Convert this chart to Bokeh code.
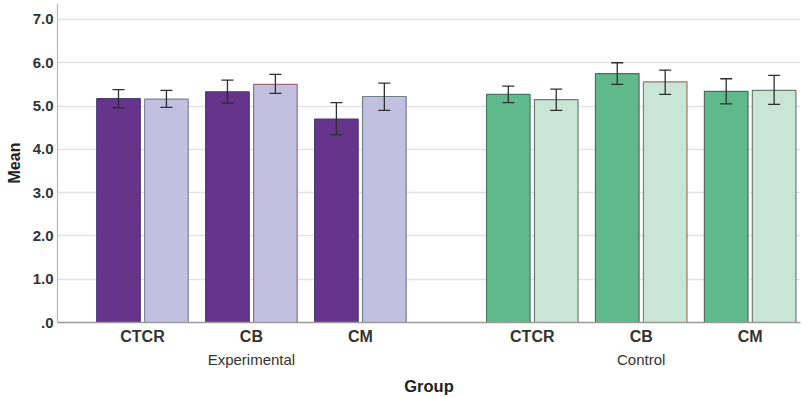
from bokeh.plotting import figure
from bokeh.models import (ColumnDataSource, Range1d, FixedTicker, LinearAxis,
                          Whisker, TeeHead, NumeralTickFormatter)
from bokeh.embed import file_html
from bokeh.resources import INLINE

# ---- data ----
groups = ["Experimental", "Control"]
measures = ["CTCR", "CB", "CM"]
group_of = ["Experimental", "Experimental", "Experimental", "Control", "Control", "Control"]
measure_of = ["CTCR", "CB", "CM", "CTCR", "CB", "CM"]
pre_mean = [5.17, 5.33, 4.70, 5.27, 5.75, 5.34]
pre_lo = [4.96, 5.07, 4.34, 5.08, 5.50, 5.05]
pre_hi = [5.38, 5.60, 5.08, 5.46, 6.00, 5.63]
post_mean = [5.16, 5.50, 5.22, 5.15, 5.56, 5.36]
post_lo = [4.97, 5.29, 4.90, 4.90, 5.27, 5.04]
post_hi = [5.36, 5.73, 5.53, 5.39, 5.83, 5.71]
y_ticks = [0, 1, 2, 3, 4, 5, 6, 7]

# colours
pre_fill = ["#66348a"] * 3 + ["#5fb98a"] * 3
post_fill = ["#c2c0e0"] * 3 + ["#c8e5d6"] * 3
pre_line = ["#4b3a78", "#4b3a78", "#4b3a78", "#4d7a66", "#4d6a5c", "#4d6a5c"]
post_line = ["#7d8496", "#a06878", "#6f8088", "#6f7a74", "#a07464", "#6f7a74"]

# ---- layout positions (computed from the category indices) ----
GAP = 0.578
OFF = 0.22
W = 0.40
xc = [groups.index(g) * (len(measures) + GAP) + measures.index(m)
      for g, m in zip(group_of, measure_of)]
x_pre = [x - OFF for x in xc]
x_post = [x + OFF for x in xc]

src_pre = ColumnDataSource(dict(x=x_pre, top=pre_mean, lo=pre_lo, hi=pre_hi,
                                fill=pre_fill, line=pre_line))
src_post = ColumnDataSource(dict(x=x_post, top=post_mean, lo=post_lo, hi=post_hi,
                                 fill=post_fill, line=post_line))

FONT = "Liberation Sans"

p = figure(width=802, height=397, output_backend="svg", toolbar_location=None,
           x_range=Range1d(-0.78, 6.04), y_range=Range1d(0, 7.368),
           min_border_left=57, min_border_right=2, min_border_top=3,
           min_border_bottom=0, x_axis_location=None)
p.outline_line_color = None
p.background_fill_color = "white"
p.border_fill_color = "white"
p.xgrid.visible = False
p.ygrid.grid_line_color = "#e2e2e2"
p.ygrid.grid_line_width = 1.3
p.ygrid.ticker = FixedTicker(ticks=y_ticks)

p.vbar(x="x", top="top", bottom=0, width=W, source=src_pre,
       fill_color="fill", line_color="line", line_width=1.2)
p.vbar(x="x", top="top", bottom=0, width=W, source=src_post,
       fill_color="fill", line_color="line", line_width=1.2)

for src in (src_pre, src_post):
    w = Whisker(source=src, base="x", upper="hi", lower="lo", level="overlay",
                line_color="#2e2e2e", line_width=1.3,
                upper_head=TeeHead(size=12, line_color="#2e2e2e", line_width=1.3),
                lower_head=TeeHead(size=12, line_color="#2e2e2e", line_width=1.3))
    p.add_layout(w)

# y axis
ya = p.yaxis[0]
ya.ticker = FixedTicker(ticks=y_ticks)
ya.formatter = NumeralTickFormatter(format="0.0")
ya.major_label_overrides = {0: ".0"}
ya.major_tick_out = 0
ya.major_tick_in = 0
ya.minor_tick_out = 0
ya.minor_tick_in = 0
ya.axis_line_color = "#bdbdbd"
ya.axis_line_width = 1.3
ya.major_label_text_font = FONT
ya.major_label_text_font_style = "bold"
ya.major_label_text_font_size = "15px"
ya.major_label_text_color = "#333333"
ya.major_label_standoff = 4
ya.axis_label = "Mean"
ya.axis_label_text_font = FONT
ya.axis_label_text_font_style = "bold"
ya.axis_label_text_font_size = "16px"
ya.axis_label_text_color = "#222222"
ya.axis_label_standoff = 7

# x axis: measures
xa1 = LinearAxis(ticker=FixedTicker(ticks=xc),
                 major_label_overrides={x: m for x, m in zip(xc, measure_of)})
xa1.major_tick_out = 0
xa1.major_tick_in = 0
xa1.minor_tick_out = 0
xa1.minor_tick_in = 0
xa1.axis_line_color = "#9a9a9a"
xa1.axis_line_width = 1.3
xa1.major_label_text_font = FONT
xa1.major_label_text_font_style = "bold"
xa1.major_label_text_font_size = "16px"
xa1.major_label_text_color = "#333333"
xa1.major_label_standoff = 5
p.add_layout(xa1, "below")

# x axis: groups
gc = [sum(xc[i] for i in range(len(xc)) if group_of[i] == g) / len(measures) for g in groups]
xa2 = LinearAxis(ticker=FixedTicker(ticks=gc),
                 major_label_overrides={x: g for x, g in zip(gc, groups)})
xa2.major_tick_out = 0
xa2.major_tick_in = 0
xa2.minor_tick_out = 0
xa2.minor_tick_in = 0
xa2.axis_line_color = None
xa2.major_label_text_font = FONT
xa2.major_label_text_font_size = "15px"
xa2.major_label_text_color = "#333333"
xa2.major_label_standoff = 3
xa2.axis_label = "Group"
xa2.axis_label_text_font = FONT
xa2.axis_label_text_font_style = "bold"
xa2.axis_label_text_font_size = "16.5px"
xa2.axis_label_text_color = "#222222"
xa2.axis_label_standoff = 6
p.add_layout(xa2, "below")

open("out.html", "w").write(file_html(p, INLINE))
